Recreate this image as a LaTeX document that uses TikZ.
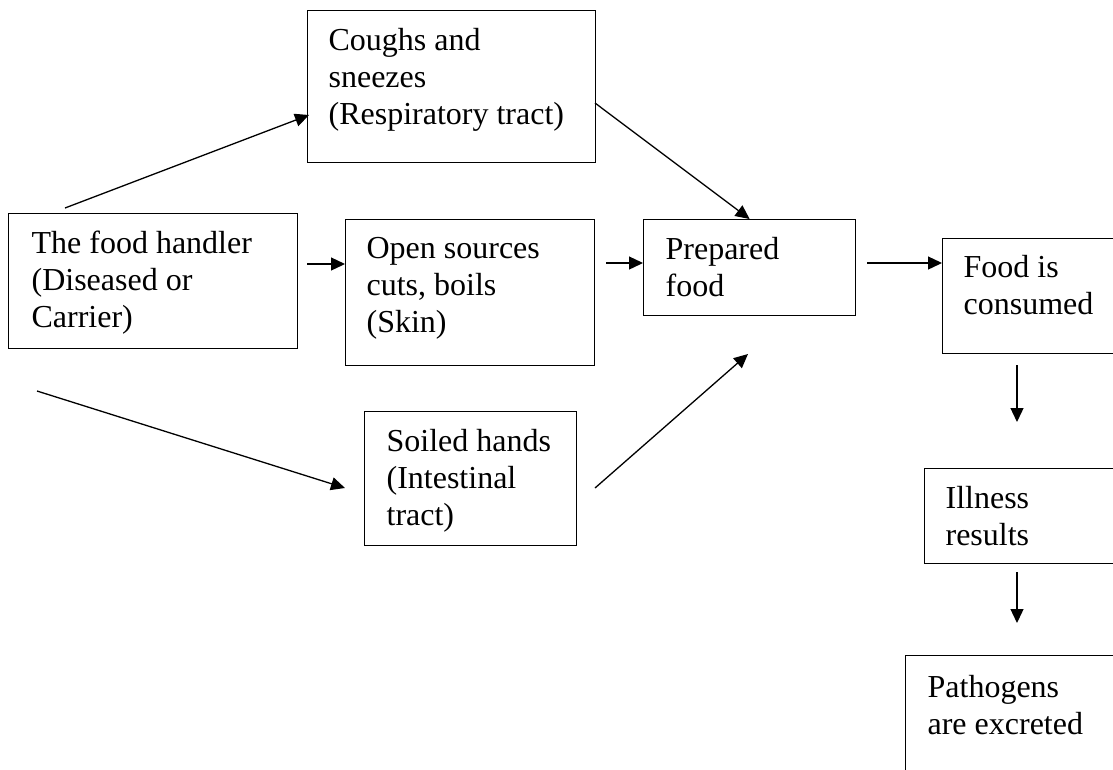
\documentclass[tikz,border=0pt]{standalone}
\usepackage{fontspec}
\setmainfont{Liberation Serif}
\usetikzlibrary{arrows.meta}
\newcommand{\boxtext}[2]{\makebox[#1][l]{\begin{tabular}[t]{@{}l@{}}#2\end{tabular}}}
\begin{document}
\begin{tikzpicture}[x=1pt,y=-1pt,
  fbox/.style={draw=black, line width=1.2pt, anchor=north west, inner ysep=0pt,
    font=\fontsize{32}{36.7}\selectfont},
  conn/.style={line width=1.3pt, -{Triangle[length=14pt,width=13pt]}}]
\useasboundingbox (0,0) rectangle (1113,769);
\clip (0,0) rectangle (1113,769);

\node[fbox, inner xsep=21pt, text height=40pt, text depth=112pt] (coughs) at (307,10)
  {\boxtext{246pt}{Coughs and\\sneezes\\(Respiratory tract)}};
\node[fbox, inner xsep=23pt, text height=40pt, text depth=95pt] (handler) at (8,213)
  {\boxtext{243pt}{The food handler\\(Diseased or\\Carrier)}};
\node[fbox, inner xsep=21pt, text height=39pt, text depth=107pt] (open) at (345,219)
  {\boxtext{207pt}{Open sources\\cuts, boils\\(Skin)}};
\node[fbox, inner xsep=22pt, text height=40pt, text depth=56pt] (prepared) at (643,219)
  {\boxtext{168pt}{Prepared\\food}};
\node[fbox, inner xsep=21pt, text height=39pt, text depth=76pt] (consumed) at (942,238)
  {\boxtext{300pt}{Food is\\consumed}};
\node[fbox, inner xsep=22pt, text height=40pt, text depth=94pt] (soiled) at (364,411)
  {\boxtext{168pt}{Soiled hands\\(Intestinal\\tract)}};
\node[fbox, inner xsep=21pt, text height=40pt, text depth=55pt] (illness) at (924,468)
  {\boxtext{300pt}{Illness\\results}};
\node[fbox, inner xsep=22pt, text height=42pt, text depth=160pt] (pathogens) at (905,655)
  {\boxtext{300pt}{Pathogens\\are excreted}};

\coordinate (a0) at (65,208);
\coordinate (a1) at (309,115);
\coordinate (b0) at (307,264);
\coordinate (c0) at (37,391);
\coordinate (c1) at (345,488);
\coordinate (d0) at (595,103);
\coordinate (e0) at (606,263);
\coordinate (f0) at (595,488);
\coordinate (f1) at (748,354);
\coordinate (g0) at (867,263);
\coordinate (h0) at (1017,365);
\coordinate (h1) at (1017,422);
\coordinate (i0) at (1017,572);
\coordinate (i1) at (1017,623);

\draw[conn] (a0) -- (a1);
\draw[conn] (b0) -- (b0 -| open.west);
\draw[conn] (c0) -- (c1);
\draw[conn] (d0) -- (prepared.north);
\draw[conn] (e0) -- (e0 -| prepared.west);
\draw[conn] (f0) -- (f1);
\draw[conn] (g0) -- (g0 -| consumed.west);
\draw[conn] (h0) -- (h1);
\draw[conn] (i0) -- (i1);
\end{tikzpicture}
\end{document}
